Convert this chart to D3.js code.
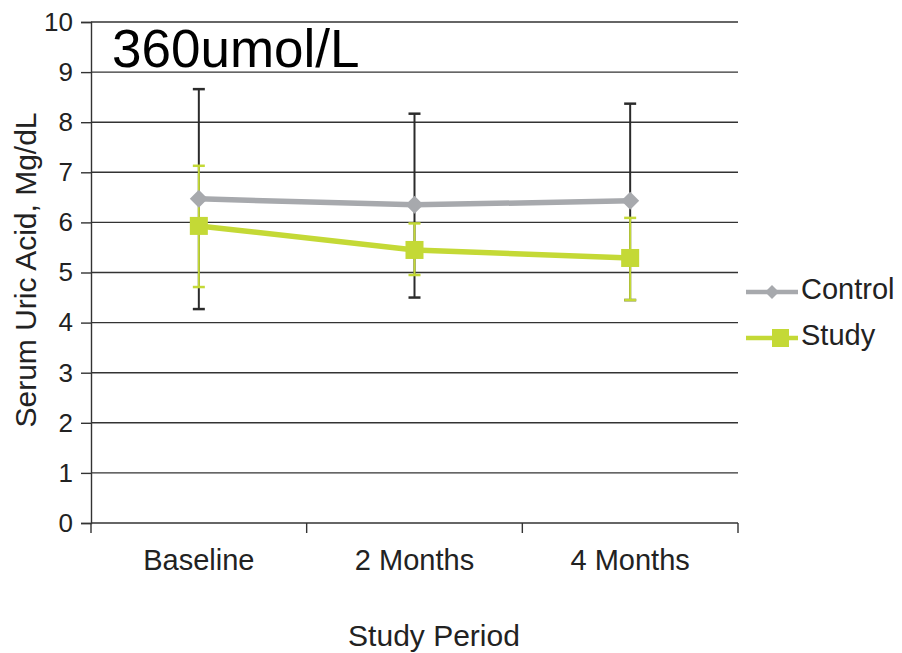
<!DOCTYPE html>
<html>
<head>
<meta charset="utf-8">
<script src="https://cdn.jsdelivr.net/npm/d3@7"></script>
<style>
  html, body { margin: 0; padding: 0; background: #fff; }
  svg { display: block; font-family: "Liberation Sans", Arial, sans-serif; }
</style>
</head>
<body>
<svg id="chart" width="902" height="653"></svg>
<script>
// Study periods on the x axis
const periods = ["Baseline", "2 Months", "4 Months"];
const yTicks = [0, 1, 2, 3, 4, 5, 6, 7, 8, 9, 10];

// Serum uric acid (mg/dL): mean with lower / upper error bounds
const controlMean  = [6.47, 6.35, 6.43];
const controlLow   = [4.27, 4.50, 4.45];
const controlHigh  = [8.66, 8.17, 8.37];
const studyMean    = [5.93, 5.45, 5.29];
const studyLow     = [4.71, 4.95, 4.45];
const studyHigh    = [7.13, 5.98, 6.09];

const svg = d3.select("#chart");
const plotLeft = 91, plotRight = 738, plotTop = 22, plotBottom = 523;

const x = d3.scaleBand().domain(periods).range([plotLeft, plotRight]);
const y = d3.scaleLinear().domain([0, 10]).range([plotBottom, plotTop]);

const gridColor = "#333";
const textColor = "#222";
const controlColor = "#a7a9ad";
const studyColor = "#c4d936";

// horizontal gridlines
svg.append("g")
  .selectAll("line")
  .data(yTicks.filter(d => d > 0))
  .join("line")
  .attr("x1", plotLeft).attr("x2", plotRight)
  .attr("y1", d => y(d)).attr("y2", d => y(d))
  .attr("stroke", gridColor).attr("stroke-width", 1.4);

// y axis
const yAxis = svg.append("g")
  .attr("transform", `translate(${plotLeft},0)`)
  .call(d3.axisLeft(y).tickValues(yTicks).tickSize(10).tickPadding(8).tickFormat(d3.format("d")));
yAxis.select(".domain").attr("stroke", gridColor).attr("stroke-width", 1.4);
yAxis.selectAll(".tick line").attr("stroke", gridColor).attr("stroke-width", 1.4);
yAxis.selectAll(".tick text")
  .attr("font-size", 26).attr("fill", textColor)
  .attr("font-family", "Liberation Sans, Arial, sans-serif");

// x axis with ticks at category boundaries
const xBounds = periods.map(p => x(p)).concat([x(periods[periods.length - 1]) + x.bandwidth()]);
svg.append("line")
  .attr("x1", plotLeft).attr("x2", plotRight).attr("y1", plotBottom).attr("y2", plotBottom)
  .attr("stroke", gridColor).attr("stroke-width", 1.4);
svg.append("g").selectAll("line").data(xBounds).join("line")
  .attr("x1", d => d).attr("x2", d => d)
  .attr("y1", plotBottom).attr("y2", plotBottom + 10)
  .attr("stroke", gridColor).attr("stroke-width", 1.4);
svg.append("g").selectAll("text").data(periods).join("text")
  .attr("x", d => x(d) + x.bandwidth() / 2)
  .attr("y", 570)
  .attr("text-anchor", "middle")
  .attr("font-size", 29).attr("fill", textColor)
  .text(d => d);

// axis titles
svg.append("text")
  .attr("x", 434).attr("y", 646)
  .attr("text-anchor", "middle")
  .attr("font-size", 30).attr("fill", textColor)
  .text("Study Period");
svg.append("text")
  .attr("transform", `translate(36,270) rotate(-90)`)
  .attr("text-anchor", "middle")
  .attr("font-size", 30).attr("fill", textColor)
  .text("Serum Uric Acid, Mg/dL");

const cx = i => x(periods[i]) + x.bandwidth() / 2;

// error bars
function errorBars(low, high, color, cap, w) {
  const g = svg.append("g");
  periods.forEach((p, i) => {
    g.append("line")
      .attr("x1", cx(i)).attr("x2", cx(i))
      .attr("y1", y(low[i])).attr("y2", y(high[i]))
      .attr("stroke", color).attr("stroke-width", w);
    [low[i], high[i]].forEach(v => {
      g.append("line")
        .attr("x1", cx(i) - cap).attr("x2", cx(i) + cap)
        .attr("y1", y(v)).attr("y2", y(v))
        .attr("stroke", color).attr("stroke-width", w + 0.5);
    });
  });
}
errorBars(controlLow, controlHigh, "#2b2b2b", 6, 2);
errorBars(studyLow, studyHigh, studyColor, 6, 2);

// series lines
const line = d3.line().x((d, i) => cx(i)).y(d => y(d));
svg.append("path").datum(controlMean)
  .attr("d", line).attr("fill", "none")
  .attr("stroke", controlColor).attr("stroke-width", 5.5);
svg.append("path").datum(studyMean)
  .attr("d", line).attr("fill", "none")
  .attr("stroke", studyColor).attr("stroke-width", 5.5);

// markers
const diamond = (px, py, r) => `M${px},${py - r}L${px + r},${py}L${px},${py + r}L${px - r},${py}Z`;
svg.append("g").selectAll("path").data(controlMean).join("path")
  .attr("d", (d, i) => diamond(cx(i), y(d), 9))
  .attr("fill", controlColor);
svg.append("g").selectAll("rect").data(studyMean).join("rect")
  .attr("x", (d, i) => cx(i) - 9).attr("y", d => y(d) - 9)
  .attr("width", 18).attr("height", 18)
  .attr("fill", studyColor);

// legend
const legend = [
  { name: "Control", color: controlColor, shape: "diamond", ly: 292 },
  { name: "Study", color: studyColor, shape: "square", ly: 338 }
];
legend.forEach(l => {
  svg.append("line")
    .attr("x1", 746).attr("x2", 798).attr("y1", l.ly).attr("y2", l.ly)
    .attr("stroke", l.color).attr("stroke-width", 4.5);
  if (l.shape === "diamond") {
    svg.append("path").attr("d", diamond(772, l.ly, 7)).attr("fill", l.color);
  } else {
    svg.append("rect").attr("x", 772).attr("y", l.ly - 9)
      .attr("width", 17).attr("height", 18).attr("fill", l.color);
  }
  svg.append("text")
    .attr("x", 801).attr("y", l.ly + 7)
    .attr("font-size", 29).attr("fill", textColor)
    .text(l.name);
});

// reference concentration label
svg.append("text")
  .attr("x", 112).attr("y", 67)
  .attr("font-size", 53).attr("fill", "#000")
  .text("360umol/L");
</script>
</body>
</html>
